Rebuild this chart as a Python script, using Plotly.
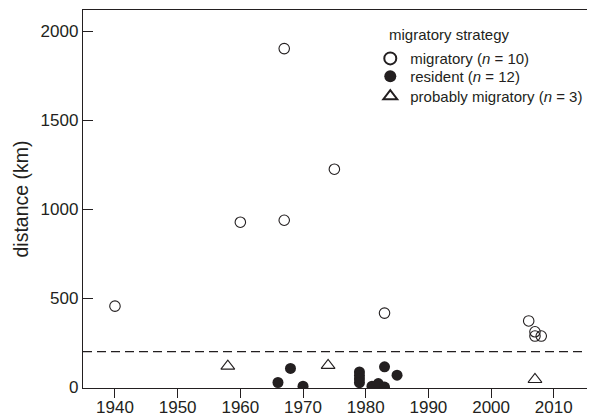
import plotly.graph_objects as go

mig_year = [1940, 1960, 1967, 1967, 1975, 1983, 2006, 2007, 2007, 2008]
mig_dist = [455, 927, 1903, 938, 1225, 416, 372, 311, 287, 287]

res_year = [1966, 1968, 1970, 1979, 1979, 1979, 1979, 1981, 1982, 1983, 1983, 1985]
res_dist = [26, 105, 5, 85, 65, 45, 25, 5, 20, 114, 0, 67]

prob_year = [1958, 1974, 2007]
prob_dist = [118, 122, 43]

threshold = 200

x_ticks = [1940, 1950, 1960, 1970, 1980, 1990, 2000, 2010]
y_ticks = [0, 500, 1000, 1500, 2000]

INK = "#231f20"
FONT = "Liberation Sans, Arial, Helvetica, sans-serif"
X_RANGE = [1934.9, 2015.3]

# page body has a default 8px margin; figure size/margins compensate for it
fig = go.Figure()
fig.add_trace(go.Scatter(
    x=mig_year, y=mig_dist, mode="markers",
    name="migratory (<i>n</i> = 10)", legend="legend",
    marker=dict(symbol="circle-open", size=10.5, color=INK, line=dict(width=1.1, color=INK)),
))
fig.add_trace(go.Scatter(
    x=res_year, y=res_dist, mode="markers",
    name="resident (<i>n</i> = 12)", legend="legend2",
    marker=dict(symbol="circle", size=11, color=INK, line=dict(width=0)),
))
fig.add_trace(go.Scatter(
    x=prob_year, y=prob_dist, mode="markers", xaxis="x2",
    name="probably migratory (<i>n</i> = 3)", legend="legend3",
    marker=dict(symbol="triangle-up-open", size=12, color=INK, line=dict(width=1.1, color=INK)),
))

fig.add_hline(y=threshold, line=dict(color=INK, width=1.2, dash="9px,5px"), layer="below")

fig.add_annotation(
    text="migratory strategy", xref="paper", yref="paper",
    x=0.604, y=0.934, xanchor="left", yanchor="middle", showarrow=False,
    font=dict(family=FONT, size=15, color=INK),
)

leg_common = dict(
    x=0.570, xanchor="left", yanchor="top",
    bgcolor="rgba(0,0,0,0)", font=dict(family=FONT, size=15, color=INK),
    itemsizing="constant",
)

fig.update_layout(
    width=587, height=412,
    margin=dict(l=75, r=8, t=2, b=32, autoexpand=False),
    paper_bgcolor="white", plot_bgcolor="white",
    font=dict(family=FONT, size=17, color=INK),
    showlegend=True,
    legend=dict(y=0.915, **leg_common),
    legend2=dict(y=0.868, **leg_common),
    legend3=dict(y=0.815, **leg_common),
    # tick marks + frame
    xaxis=dict(
        range=X_RANGE, tickvals=x_ticks, ticks="outside", ticklen=9,
        tickwidth=1.2, tickcolor=INK, showgrid=False, zeroline=False,
        showline=True, linecolor=INK, linewidth=1.3, mirror=True,
        showticklabels=False, automargin=False,
    ),
    # tick labels (closer to the axis than the long ticks would allow)
    xaxis2=dict(
        range=X_RANGE, tickvals=x_ticks, overlaying="x", side="bottom",
        ticks="outside", ticklen=4, tickcolor="rgba(0,0,0,0)",
        showgrid=False, zeroline=False, showline=False,
        tickfont=dict(size=17, color=INK), automargin=False,
    ),
    yaxis=dict(
        range=[-5, 2120], tickvals=y_ticks, ticks="inside", ticklen=10,
        tickwidth=1.2, tickcolor=INK, showgrid=False, zeroline=False,
        showline=True, linecolor=INK, linewidth=1.3, mirror=True,
        tickfont=dict(size=17), automargin=False,
        title=dict(text="distance (km)", font=dict(size=19.5), standoff=6),
    ),
)

fig.write_html("out.html")
